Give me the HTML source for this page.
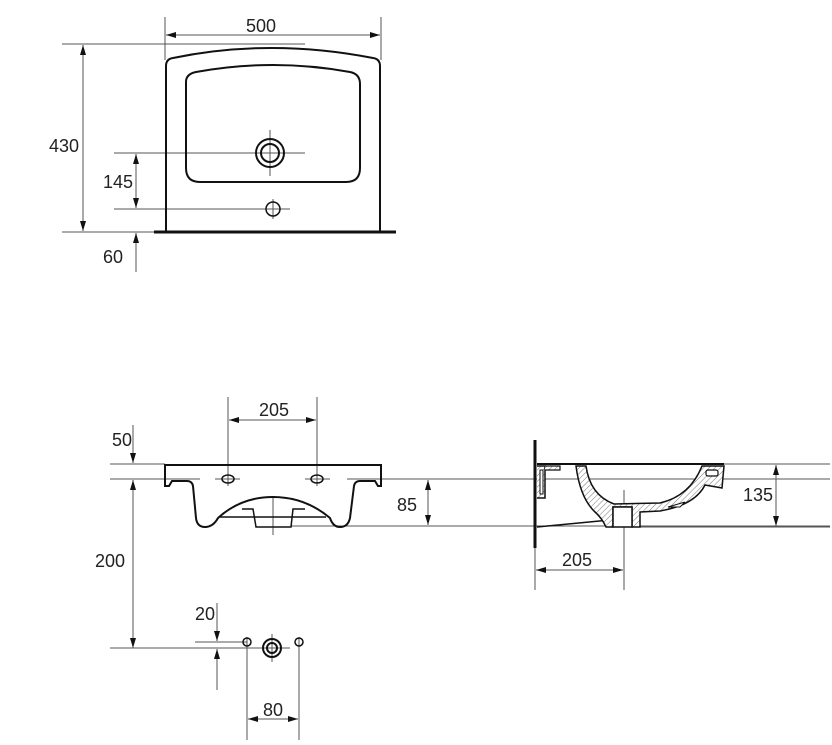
<!DOCTYPE html>
<html><head><meta charset="utf-8"><style>
html,body{margin:0;padding:0;background:#fff}
svg{display:block}
text{font-family:"Liberation Sans",Arial,sans-serif;font-size:18px;fill:#222}
</style></head><body>
<svg width="832" height="745" viewBox="0 0 832 745" xmlns="http://www.w3.org/2000/svg">
<defs>
<marker id="a" viewBox="0 0 10 6" refX="10" refY="3" markerWidth="10" markerHeight="6" markerUnits="userSpaceOnUse" orient="auto-start-reverse"><path d="M0,0L10,3L0,6z" fill="#111"/></marker>
<pattern id="h" width="4" height="4" patternUnits="userSpaceOnUse" patternTransform="rotate(45)"><rect width="4" height="4" fill="#fff"/><line x1="0" y1="0" x2="0" y2="4" stroke="#777" stroke-width="1"/></pattern>
</defs>
<g stroke="#555" stroke-width="1" fill="none">
<line x1="165" y1="17" x2="165" y2="60"/><line x1="381" y1="17" x2="381" y2="60"/>
<line x1="166" y1="35" x2="380" y2="35" marker-start="url(#a)" marker-end="url(#a)"/>
<line x1="62" y1="44" x2="305" y2="44"/>
<line x1="83" y1="45" x2="83" y2="231" marker-start="url(#a)" marker-end="url(#a)"/>
<line x1="114" y1="153" x2="305" y2="153"/><line x1="270" y1="130" x2="270" y2="176"/>
<line x1="114" y1="209" x2="290" y2="209"/><line x1="273" y1="199" x2="273" y2="219"/>
<line x1="136" y1="154" x2="136" y2="208" marker-start="url(#a)" marker-end="url(#a)"/>
<line x1="62" y1="232" x2="154" y2="232"/>
<line x1="136" y1="272" x2="136" y2="233" marker-end="url(#a)"/>
<line x1="228" y1="397" x2="228" y2="486"/><line x1="317" y1="397" x2="317" y2="486"/>
<line x1="229" y1="420" x2="316" y2="420" marker-start="url(#a)" marker-end="url(#a)"/>
<line x1="110" y1="464" x2="165" y2="464"/>
<line x1="110" y1="479" x2="200" y2="479"/><line x1="215" y1="479" x2="240" y2="479"/><line x1="305" y1="479" x2="330" y2="479"/><line x1="347" y1="479" x2="830" y2="479"/>
<line x1="133" y1="425" x2="133" y2="463" marker-end="url(#a)"/>
<line x1="133" y1="648" x2="133" y2="480" marker-start="url(#a)" marker-end="url(#a)"/>
<line x1="273" y1="497" x2="273" y2="535"/>
<line x1="291" y1="526" x2="830" y2="526"/>
<line x1="428" y1="480" x2="428" y2="525" marker-start="url(#a)" marker-end="url(#a)"/>
<line x1="110" y1="648" x2="290" y2="648"/>
<line x1="195" y1="642" x2="247" y2="642"/>
<line x1="217" y1="603" x2="217" y2="641" marker-end="url(#a)"/>
<line x1="217" y1="690" x2="217" y2="649" marker-end="url(#a)"/>
<line x1="247" y1="637" x2="247" y2="740"/><line x1="299" y1="637" x2="299" y2="740"/>
<line x1="248" y1="719" x2="298" y2="719" marker-start="url(#a)" marker-end="url(#a)"/>
<line x1="272" y1="634" x2="272" y2="662"/><line x1="258" y1="648" x2="286" y2="648"/>
<line x1="724" y1="464" x2="830" y2="464"/>
<line x1="640" y1="527" x2="830" y2="527"/>
<line x1="776" y1="465" x2="776" y2="526" marker-start="url(#a)" marker-end="url(#a)"/>
<line x1="624" y1="490" x2="624" y2="590"/><line x1="535" y1="548" x2="535" y2="590"/>
<line x1="536" y1="570" x2="623" y2="570" marker-start="url(#a)" marker-end="url(#a)"/>
</g>
<g stroke="#111" stroke-width="2" fill="none">
<path d="M166,231 L166,66 Q166,59 173,58 Q270,38 373,58 Q380,59 380,66 L380,231"/>
<line x1="154" y1="232" x2="396" y2="232" stroke-width="3"/>
<path d="M186,82 Q186,74 196,72 Q273,58 350,72 Q360,74 360,84 L360,168 Q360,182 346,182 L200,182 Q186,182 186,168 Z"/>
<circle cx="270" cy="153" r="14"/><circle cx="270" cy="153" r="9"/>
<circle cx="273" cy="209" r="7" stroke-width="1.5"/>
<path d="M165,465 L381,465 L381,486 L378,486 L375,481 L360,481 Q355,481 354,486 L350,518 Q348,527 340,527 Q333,527 330,518 Q305,497 273,497 Q241,497 218,518 Q213,527 205,527 Q197,527 196,518 L193,486 Q192,481 187,481 L172,481 L169,486 L165,486 Z"/>
<path d="M242,509 L253,509 L256,527 L291,527 L293,509 L305,509" stroke-width="1.5"/>
<line x1="220" y1="517" x2="326" y2="517" stroke-width="1.5"/>
<ellipse cx="228" cy="479" rx="6" ry="4" stroke-width="1.5"/><ellipse cx="317" cy="479" rx="6" ry="4" stroke-width="1.5"/>
<circle cx="247" cy="642" r="4" stroke-width="1.5"/><circle cx="299" cy="642" r="4" stroke-width="1.5"/>
<circle cx="272" cy="648" r="9"/><circle cx="272" cy="648" r="5"/>
<line x1="535" y1="440" x2="535" y2="548" stroke-width="3"/>
<line x1="537" y1="464" x2="724" y2="464"/>
<line x1="537" y1="527" x2="610" y2="520" stroke-width="1.5"/>
<path d="M537,466 L545,466 L545,498 L537,498" fill="url(#h)" stroke-width="1.5"/>
<rect x="540" y="470" width="3" height="24" stroke-width="1" fill="#fff"/>
<path d="M545,466 L560,466 L560,470 L545,470" fill="url(#h)" stroke-width="1.2"/>
<path d="M576,466 L586,466 Q590,495 614,504 L660,503 Q690,496 702,466 L724,466 L722,488 L705,485 Q695,505 660,511 L640,512 L640,527 L632,527 L632,507 L613,507 L613,527 L606,527 Q602,518 594,511 Q580,497 576,466 Z" fill="url(#h)" stroke-width="1.5"/>
<rect x="613" y="507" width="19" height="20" fill="#fff" stroke-width="1.5"/>
<rect x="706" y="470" width="12" height="6" rx="2" fill="#fff" stroke-width="1.2"/>
<path d="M668,507 L685,502 L680,507 Z" fill="#fff" stroke-width="1"/>
</g>
<text x="246" y="32">500</text>
<text x="49" y="152">430</text>
<text x="103" y="188">145</text>
<text x="103" y="263">60</text>
<text x="259" y="416">205</text>
<text x="112" y="446">50</text>
<text x="397" y="511">85</text>
<text x="95" y="567">200</text>
<text x="195" y="620">20</text>
<text x="263" y="716">80</text>
<text x="743" y="501">135</text>
<text x="562" y="566">205</text>
</svg>
</body></html>
